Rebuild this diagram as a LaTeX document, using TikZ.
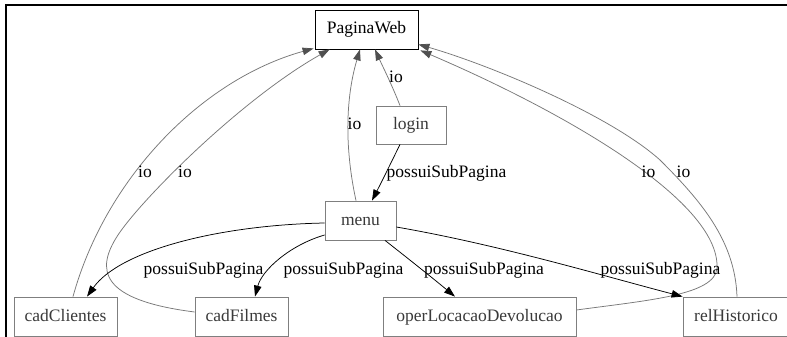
\documentclass[tikz,border=0pt]{standalone}
\usepackage{fontspec}
\setmainfont{Liberation Serif}
\usetikzlibrary{arrows.meta}
\definecolor{boxgray}{HTML}{7F7F7F}
\definecolor{txtgray}{HTML}{3A3A3A}
\definecolor{iogray}{HTML}{787878}
\definecolor{tipgray}{HTML}{505050}
\begin{document}
\begin{tikzpicture}[x=1pt,y=-1pt,
  box/.style={draw=boxgray,line width=0.8pt,inner sep=0pt,text height=9pt,text depth=0pt,
    text=txtgray,font=\fontsize{17.5}{20}\selectfont,minimum height=39pt},
  io/.style={draw=iogray,line width=0.75pt,-{Triangle[length=11pt,width=7.5pt,fill=tipgray,color=tipgray]}},
  sub/.style={draw=black,line width=0.75pt,-{Triangle[length=11pt,width=7.5pt]}},
  lbl/.style={font=\fontsize{17.5}{20}\selectfont,anchor=base,inner sep=0pt,text=black},
]
\useasboundingbox (0,0) rectangle (787,337);
\clip (0,0) rectangle (787,337);
\fill[white] (0,0) rectangle (787,337);
\draw[line width=2pt] (6,338) -- (6,5) -- (788,5);

% nodes
\node[box,draw=black,text=black,minimum width=103pt] (PW) at (366.5,29.5) {PaginaWeb};
\node[box,minimum width=70pt,minimum height=38pt] (login) at (411,125) {login};
\node[box,minimum width=71pt] (menu) at (360.5,220.5) {menu};
\node[box,minimum width=103pt] (cc) at (65.5,316.5) {cadClientes};
\node[box,minimum width=93pt] (cf) at (241.5,316.5) {cadFilmes};
\node[box,minimum width=193pt] (oper) at (479.5,316.5) {operLocacaoDevolucao};
\node[box,minimum width=106pt] (rh) at (736,316.5) {relHistorico};

% io edges
\draw[io] ([xshift=7.5pt]cc.north) .. controls (105,180) and (200,80) .. ([xshift=-1pt,yshift=1pt]PW.south west);
\draw[io] ([yshift=4.5pt]cf.west) .. controls (100,300) and (95,270) .. (118,235)
   .. controls (141,200) and (240,100) .. ([xshift=15pt]PW.south west);
\draw[io] ([xshift=-4.5pt]menu.north) .. controls (345,150) and (345,100) .. ([xshift=-6.5pt]PW.south);
\draw[io] ([xshift=-11pt]login.north) .. controls (392,85) and (382,65) .. ([xshift=8.5pt]PW.south);
\draw[io] ([yshift=6.5pt]oper.east) .. controls (650,300) and (715,295) .. (717,268)
   .. controls (720,200) and (560,110) .. ([xshift=2pt,yshift=-1pt]PW.south east);
\draw[io] ([xshift=1pt]rh.north) .. controls (735,240) and (700,200) .. (660,160)
   .. controls (610,115) and (490,65) .. ([yshift=5pt]PW.south east);

% possuiSubPagina edges
\draw[sub] ([xshift=-11pt]login.south) .. controls (390,165) and (380,185) .. ([xshift=11.5pt]menu.north);
\draw[sub] ([yshift=-2.5pt]menu.west) .. controls (220,225) and (120,250) .. ([xshift=21.5pt]cc.north);
\draw[sub] ([yshift=-14.5pt]menu.west) .. controls (290,245) and (262,270) .. ([xshift=13.5pt]cf.north);
\draw[sub] ([xshift=24.5pt]menu.south) .. controls (410,260) and (435,280) .. ([xshift=-24.5pt]oper.north);
\draw[sub] ([yshift=-6.5pt]menu.east) .. controls (500,245) and (600,275) .. (rh.north west);

% labels
\node[lbl] (io1) at (145,177) {io};
\node[lbl] (io2) at (185,177) {io};
\node[lbl] (io3) at (354.5,129) {io};
\node[lbl] (io4) at (396,82) {io};
\node[lbl] (io5) at (648.5,177) {io};
\node[lbl] (io6) at (683.5,177) {io};
\node[lbl] (p1) at (446.5,177) {possuiSubPagina};
\node[lbl] (p2) at (203.5,274) {possuiSubPagina};
\node[lbl] (p3) at (343.5,274) {possuiSubPagina};
\node[lbl] (p4) at (484,274) {possuiSubPagina};
\node[lbl] (p5) at (660.5,274) {possuiSubPagina};
\end{tikzpicture}
\end{document}
